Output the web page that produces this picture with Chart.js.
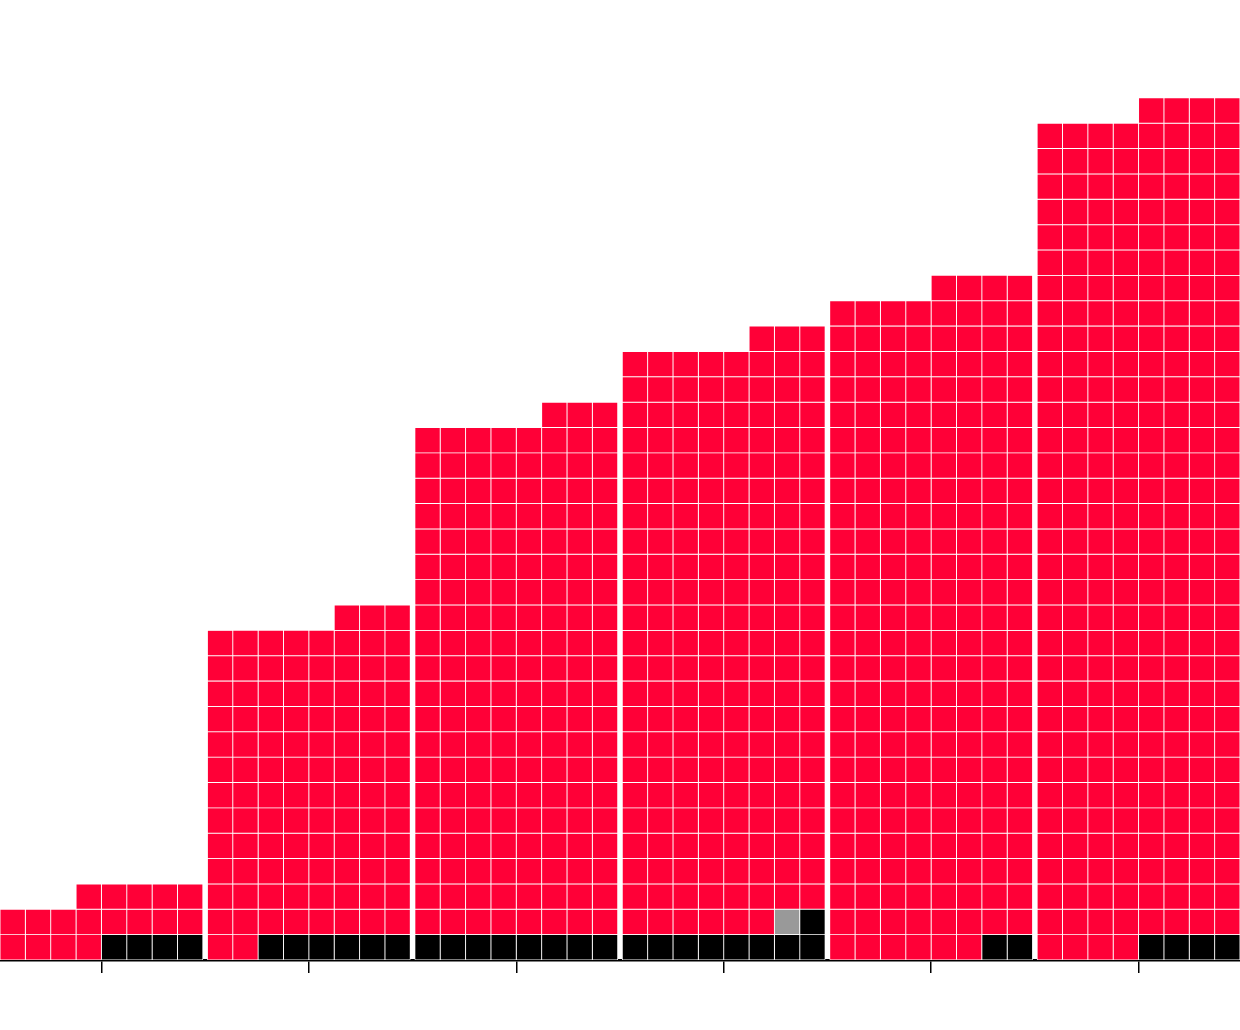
<!DOCTYPE html>
<html>
<head>
<meta charset="utf-8">
<style>
  html, body { margin: 0; padding: 0; background: #fff; }
  #wrap { width: 1240px; height: 1030px; }
</style>
<script src="https://cdn.jsdelivr.net/npm/chart.js@4.4.1/dist/chart.umd.min.js"></script>
</head>
<body>
<div id="wrap"><canvas id="waffle" width="1240" height="1030"></canvas></div>
<script>
// one entry per group, cells counted as squares in the waffle
const groups = ['A', 'B', 'C', 'D', 'E', 'F'];
const blackCounts = [4, 6, 8, 9, 2, 4];
const grayCounts = [0, 0, 0, 1, 0, 0];
const redCounts = [17, 101, 163, 185, 210, 264];

const COLS = 8;          // squares per row in a group
const GROUP_STEP = 8.18; // group width plus a small gap, in x units

const ctx = document.getElementById('waffle').getContext('2d');

// fill order: bottom row first, right to left; black, then gray, then red
function buildCells() {
    const black = [], gray = [], red = [];
    groups.forEach((g, gi) => {
        let i = 0;
        const push = (arr, n) => {
            for (let k = 0; k < n; k++, i++) {
                const row = Math.floor(i / COLS);
                const col = COLS - 1 - (i % COLS);
                arr.push({ x: gi * GROUP_STEP + col + 0.5, y: [row, row + 1] });
            }
        };
        push(black, blackCounts[gi]);
        push(gray, grayCounts[gi]);
        push(red, redCounts[gi]);
    });
    return { black, gray, red };
}

const cells = buildCells();

function cellSet(label, data, color) {
    return {
        label,
        data,
        backgroundColor: color,
        borderColor: '#ffffff',
        borderWidth: 0.8,
        borderSkipped: false,
        grouped: false,
        categoryPercentage: 1,
        barPercentage: 1
    };
}

const xMax = (groups.length - 1) * GROUP_STEP + COLS;

new Chart(ctx, {
    type: 'bar',
    data: {
        datasets: [
            cellSet('black', cells.black, '#000000'),
            cellSet('gray', cells.gray, '#999999'),
            cellSet('red', cells.red, '#ff0037')
        ]
    },
    options: {
        responsive: false,
        animation: false,
        devicePixelRatio: 1,
        layout: { padding: { top: 0, left: 0, right: 0, bottom: 57 } },
        plugins: {
            legend: { display: false },
            tooltip: { enabled: false }
        },
        scales: {
            x: {
                type: 'linear',
                min: 0,
                max: xMax,
                offset: false,
                afterBuildTicks: (axis) => {
                    axis.ticks = groups.map((g, gi) => ({ value: gi * GROUP_STEP + COLS / 2 }));
                },
                ticks: { display: false },
                grid: {
                    offset: false,
                    drawOnChartArea: false,
                    drawTicks: true,
                    tickLength: 13,
                    color: '#000000',
                    lineWidth: 1.5
                },
                border: { display: true, color: '#000000', width: 2.5 }
            },
            y: {
                display: false,
                min: 0,
                max: 37.86
            }
        }
    }
});
</script>
</body>
</html>
